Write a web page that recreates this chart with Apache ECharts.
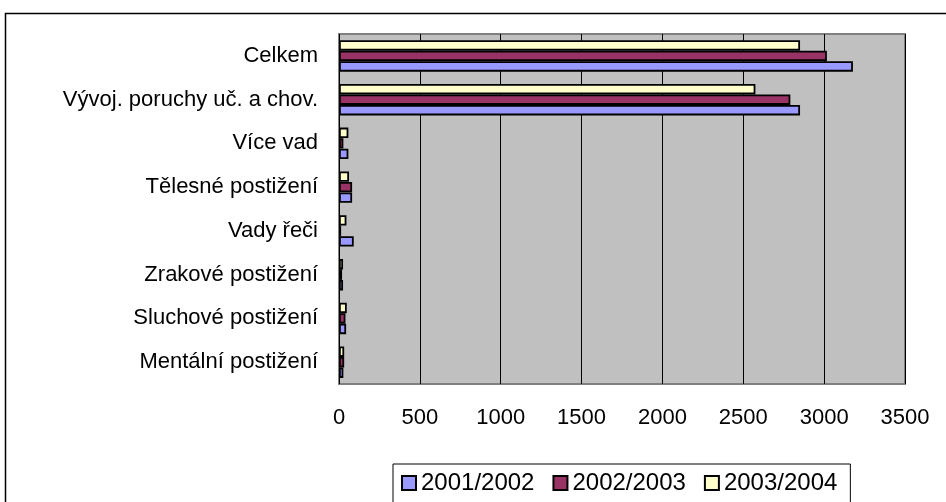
<!DOCTYPE html>
<html>
<head>
<meta charset="utf-8">
<script src="https://cdn.jsdelivr.net/npm/echarts@6/dist/echarts.min.js"></script>
<style>
  html, body { margin: 0; padding: 0; background: #fff; }
  #chart { width: 946px; height: 502px; }
</style>
</head>
<body>
<div id="chart"></div>
<script>
// categories listed bottom -> top
const categories = [
  'Mentální postižení',
  'Sluchové postižení',
  'Zrakové postižení',
  'Vady řeči',
  'Tělesné postižení',
  'Více vad',
  'Vývoj. poruchy uč. a chov.',
  'Celkem'
]
const seriesNames = ['2001/2002', '2002/2003', '2003/2004']
const values2001 = [27, 44, 25, 91, 81, 58, 2851, 3178]
const values2002 = [32, 40, 19, 13, 81, 27, 2791, 3017]
const values2003 = [32, 48, 25, 46, 62, 58, 2575, 2851]
const xTicks = [0, 500, 1000, 1500, 2000, 2500, 3000, 3500]

const colors = ['#9999ff', '#993366', '#ffffcc']
const font = 'Liberation Sans, Arial, sans-serif'

const chart = echarts.init(document.getElementById('chart'))

const allValues = [values2001, values2002, values2003]
// first series is drawn on top of the band, so go from the last year back
const series = []
for (let i = allValues.length - 1; i >= 0; i--) {
  series.push({
    name: seriesNames[i],
    type: 'bar',
    data: allValues[i],
    barWidth: 10.5,
    barGap: '0%',
    itemStyle: {
      color: colors[i],
      borderColor: '#000',
      borderWidth: 1.8
    }
  })
}

const option = {
  animation: false,
  backgroundColor: '#fff',
  textStyle: { fontFamily: font },
  graphic: [
    {
      type: 'rect',
      shape: { x: 5.5, y: 13.5, width: 1000, height: 600 },
      style: { fill: 'none', stroke: '#000', lineWidth: 1.5 },
      silent: true
    }
  ],
  grid: {
    left: 339,
    top: 34,
    right: 41,
    bottom: 118,
    show: true,
    backgroundColor: '#c0c0c0',
    borderColor: '#808080',
    borderWidth: 2
  },
  legend: {
    data: seriesNames,
    left: 393,
    top: 464,
    orient: 'horizontal',
    itemWidth: 14,
    itemHeight: 14,
    itemGap: 18,
    padding: [7, 13, 14, 8],
    borderColor: '#000',
    borderWidth: 1,
    icon: 'rect',
    textStyle: { fontSize: 24, color: '#000', fontFamily: font }
  },
  xAxis: {
    type: 'value',
    min: xTicks[0],
    max: xTicks[xTicks.length - 1],
    interval: 500,
    axisLine: { show: false },
    axisTick: { show: false },
    axisLabel: {
      fontSize: 22,
      color: '#000',
      margin: 23,
      fontFamily: font,
      formatter: v => String(v)
    },
    splitLine: { lineStyle: { color: '#000', width: 1 } }
  },
  yAxis: {
    type: 'category',
    data: categories,
    axisLine: { show: false },
    axisTick: { show: false },
    axisLabel: { fontSize: 22, color: '#000', margin: 21, fontFamily: font },
    splitLine: { show: false }
  },
  series: series
}
chart.setOption(option)
</script>
</body>
</html>
